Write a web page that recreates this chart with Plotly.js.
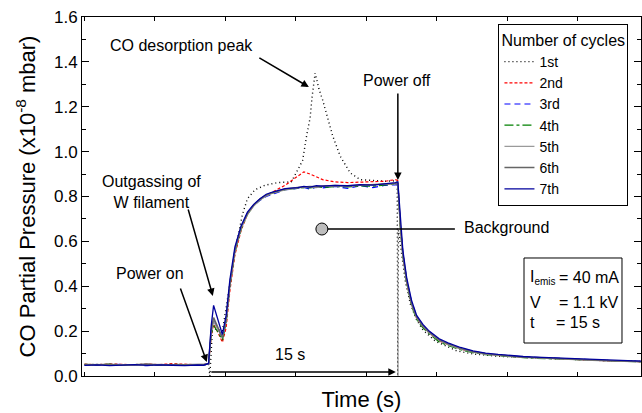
<!DOCTYPE html>
<html><head><meta charset="utf-8">
<script src="https://cdn.plot.ly/plotly-3.0.1.min.js"></script>
<style>html,body{margin:0;padding:0;background:#fff}#chart{width:642px;height:413px}</style>
</head><body><div id="chart"></div>
<script>
// shared time grid (s) for cycles 2-7
const time = [0,1,2,3,4,5,6,7,8,9,
  9.5,9.9,10.1,10.3,10.6,11.0,11.3,11.6,12.0,12.5,13.0,13.5,14.0,14.5,15,
  16,17,17.5,18,18.5,19,20,21,22,23,24,24.8,
  25.0,25.2,25.4,25.7,26.1,26.5,27.0,27.5,28.3,29,
  30,31,32,33,34,35,36,37,38,39,40,41,42,43,44.5];

const cycle2 = [0.053,0.050,0.054,0.051,0.050,0.053,0.051,0.055,0.052,0.050,
  0.051,0.054,0.170,0.230,0.200,0.150,0.215,0.380,0.540,0.650,0.720,0.760,0.787,0.806,0.820,
  0.850,0.890,0.910,0.900,0.888,0.875,0.865,0.862,0.864,0.866,0.868,0.875,
  0.872,0.665,0.540,0.420,0.318,0.258,0.220,0.192,0.156,0.140,
  0.120,0.107,0.098,0.092,0.087,0.084,0.081,0.078,0.076,0.073,0.071,0.069,0.067,0.066,0.064];

const cycle3 = [0.049,0.047,0.050,0.052,0.048,0.046,0.050,0.049,0.047,0.050,
  0.049,0.055,0.200,0.250,0.215,0.170,0.245,0.405,0.560,0.660,0.725,0.760,0.783,0.800,0.810,
  0.830,0.836,0.840,0.833,0.842,0.838,0.845,0.836,0.848,0.840,0.850,0.852,
  0.855,0.675,0.550,0.430,0.330,0.265,0.225,0.197,0.163,0.145,
  0.125,0.110,0.100,0.094,0.089,0.086,0.083,0.080,0.078,0.075,0.073,0.071,0.069,0.067,0.065];

const cycle4 = [0.052,0.050,0.053,0.049,0.051,0.050,0.048,0.052,0.050,0.051,
  0.050,0.053,0.180,0.225,0.200,0.160,0.235,0.400,0.550,0.655,0.720,0.760,0.785,0.805,0.815,
  0.830,0.835,0.840,0.838,0.842,0.840,0.844,0.843,0.847,0.846,0.850,0.855,
  0.857,0.660,0.535,0.415,0.312,0.252,0.215,0.188,0.152,0.136,
  0.117,0.104,0.095,0.090,0.085,0.082,0.079,0.077,0.075,0.072,0.070,0.068,0.066,0.065,0.063];

const cycle5 = [0.050,0.052,0.049,0.051,0.048,0.050,0.052,0.049,0.051,0.050,
  0.051,0.054,0.190,0.245,0.210,0.175,0.245,0.405,0.555,0.660,0.720,0.758,0.785,0.803,0.815,
  0.830,0.838,0.840,0.843,0.840,0.845,0.846,0.848,0.847,0.850,0.852,0.856,
  0.858,0.665,0.540,0.420,0.318,0.258,0.220,0.192,0.158,0.140,
  0.120,0.106,0.097,0.091,0.087,0.083,0.080,0.078,0.076,0.073,0.071,0.069,0.067,0.065,0.063];

const cycle6 = [0.051,0.049,0.052,0.048,0.050,0.053,0.049,0.051,0.050,0.048,
  0.050,0.055,0.200,0.260,0.220,0.170,0.250,0.410,0.560,0.665,0.725,0.762,0.788,0.806,0.818,
  0.833,0.840,0.842,0.845,0.843,0.847,0.849,0.846,0.850,0.852,0.854,0.858,
  0.860,0.670,0.545,0.425,0.320,0.262,0.222,0.195,0.160,0.143,
  0.123,0.108,0.099,0.093,0.088,0.084,0.082,0.079,0.077,0.074,0.072,0.070,0.068,0.066,0.064];

const cycle7 = [0.047,0.050,0.046,0.049,0.051,0.047,0.050,0.048,0.046,0.049,
  0.048,0.056,0.220,0.315,0.260,0.185,0.270,0.430,0.575,0.670,0.730,0.765,0.790,0.810,0.820,
  0.835,0.840,0.845,0.842,0.848,0.846,0.850,0.848,0.853,0.851,0.856,0.862,
  0.865,0.690,0.560,0.440,0.335,0.270,0.230,0.200,0.166,0.148,
  0.127,0.112,0.102,0.096,0.090,0.087,0.084,0.082,0.079,0.076,0.074,0.072,0.070,0.068,0.066];

// first cycle has its own time grid (desorption peak)
const time1 = [0,1,2,3,4,5,6,7,8,9,9.9,
  10.0,10.2,10.5,11.0,11.4,11.8,12.2,12.6,13.0,13.6,14.4,15.4,16.5,
  17.0,17.4,17.75,18.0,18.15,18.4,18.7,19.0,19.4,19.8,20.4,21.2,22.0,23,24,24.95,
  25.0,25.05,25.3,25.6,26.0,26.5,27,28,29.7,31,33,35,38,41,44.5];
const cycle1 = [0.050,0.052,0.049,0.051,0.050,0.052,0.049,0.051,0.050,0.050,0.052,
  0.0,0.200,0.210,0.200,0.340,0.490,0.610,0.720,0.790,0.830,0.850,0.862,0.865,
  0.920,0.960,1.080,1.150,1.240,1.350,1.280,1.230,1.150,1.070,0.980,0.905,0.875,0.870,0.868,0.870,
  0.0,0.650,0.540,0.420,0.320,0.250,0.205,0.155,0.112,0.098,0.088,0.082,0.076,0.070,0.064];

const names = ['1st','2nd','3rd','4th','5th','6th','7th'];
const xs = [time1,time,time,time,time,time,time];
const ys = [cycle1,cycle2,cycle3,cycle4,cycle5,cycle6,cycle7];
const colors = ['#000000','#ff0000','#0000ff','#008000','#9a9a9a','#666666','#00009c'];
const dashes = ['1px,3px','3px,2px','6px,4px','dashdot','solid','solid','solid'];
const widths = [1.4,1.2,1.2,1.2,1.3,1.5,1.3];

const traces = names.map((n,i)=>({
  x: xs[i], y: ys[i], name: n, type: 'scatter', mode: 'lines',
  line: {color: colors[i], dash: dashes[i], width: widths[i]}
}));

const F = '"Liberation Sans", Arial, sans-serif';
const arrow = (tx,ty,hx,hy)=>({x:hx,y:hy,ax:tx,ay:ty,xref:'x',yref:'y',axref:'x',ayref:'y',
  text:'',showarrow:true,arrowhead:2,arrowsize:1,arrowwidth:1.5,arrowcolor:'#000',standoff:0,startstandoff:0});
const label = (x,y,t,anchor)=>({x:x,y:y,xref:'x',yref:'y',text:t,showarrow:false,
  xanchor:anchor||'center',yanchor:'middle',font:{family:F,size:16,color:'#000'}});
const boxText = (x,y,t)=>({x:x,y:y,xref:'paper',yref:'paper',text:t,showarrow:false,
  xanchor:'left',yanchor:'middle',font:{family:F,size:16,color:'#000'}});

const layout = {
  width: 642, height: 413,
  margin: {l: 82, r: 1, t: 17, b: 37},
  paper_bgcolor: '#fff', plot_bgcolor: '#fff',
  font: {family: F, color: '#000'},
  showlegend: true,
  legend: {x: 0.745, y: 0.98, xanchor: 'left', yanchor: 'top',
    bordercolor: '#000', borderwidth: 1, bgcolor: '#fff',
    font: {family: F, size: 14}, title: {text: 'Number of cycles', font: {family: F, size: 16}}},
  xaxis: {range: [-0.2, 44.4], showgrid: false, zeroline: false,
    showline: true, linecolor: '#000', linewidth: 1, mirror: 'ticks',
    ticks: 'inside', ticklen: 4, tickcolor: '#000', tick0: 0, dtick: 5.62,
    showticklabels: false,
    title: {text: 'Time (s)', font: {family: F, size: 22}, standoff: 15}},
  yaxis: {range: [0, 1.6], showgrid: false, zeroline: false,
    showline: true, linecolor: '#000', linewidth: 1, mirror: 'ticks',
    ticks: 'inside', ticklen: 7, tickcolor: '#000', dtick: 0.2, tickformat: '.1f',
    minor: {dtick: 0.1, ticks: 'inside', ticklen: 4, tickcolor: '#000'},
    tickfont: {family: F, size: 17},
    title: {text: 'CO Partial Pressure (x10<sup>-8</sup> mbar)', font: {family: F, size: 22}, standoff: 12}},
  shapes: [
    {type:'line', xref:'x', yref:'y', x0:18.94, y0:0.655, x1:29.55, y1:0.655, line:{color:'#000', width:1.5}},
    {type:'circle', xref:'x', yref:'y', xsizemode:'pixel', ysizemode:'pixel', xanchor:18.94, yanchor:0.655,
      x0:-6, x1:6, y0:-6, y1:6, fillcolor:'#bdbdbd', line:{color:'#000', width:1}},
    {type:'rect', xref:'paper', yref:'paper', x0:0.7907, x1:0.966, y0:0.0919, y1:0.3287,
      fillcolor:'#fff', line:{color:'#000', width:1}}
  ],
  annotations: [
    label(7.77, 1.471, 'CO desorption peak'),
    arrow(13.83, 1.422, 17.9, 1.288),
    label(24.92, 1.319, 'Power off'),
    arrow(25.0, 1.266, 25.0, 0.873),
    label(5.37, 0.82, 'Outgassing of<br>W filament'),
    arrow(8.24, 0.749, 10.24, 0.357),
    label(5.21, 0.459, 'Power on'),
    arrow(7.61, 0.397, 9.76, 0.062),
    label(30.11, 0.66, 'Background', 'left'),
    label(16.38, 0.094, '15 s'),
    arrow(10.0, 0.018, 24.84, 0.018),
    boxText(0.7979, 0.273, 'I<sub><span style="font-size:10px">emis</span></sub>'),
    boxText(0.850, 0.273, '= 40 mA'),
    boxText(0.7979, 0.206, 'V'),
    boxText(0.850, 0.206, '= 1.1 kV'),
    boxText(0.7979, 0.148, 't'),
    boxText(0.8440, 0.148, '= 15 s')
  ]
};

Plotly.newPlot('chart', traces, layout, {staticPlot: true});
</script></body></html>
